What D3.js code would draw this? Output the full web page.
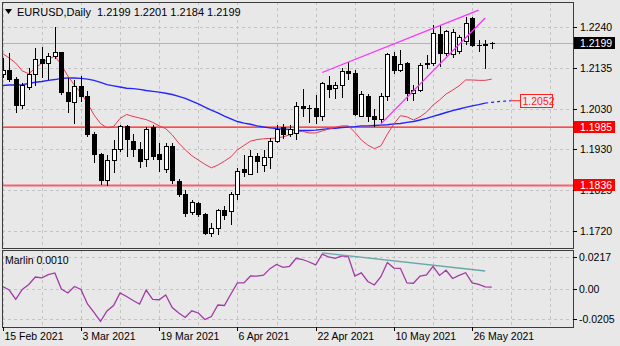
<!DOCTYPE html>
<html><head><meta charset="utf-8">
<script src="https://cdn.jsdelivr.net/npm/d3@7"></script>
<style>
html,body{margin:0;padding:0;background:#e8e8e8;}
svg{display:block;font-family:"Liberation Sans",Arial,sans-serif;}
</style>
</head><body>
<svg id="chart" width="620" height="346"></svg>
<script>
// EURUSD daily bars, 15 Feb – 31 May 2021
const dates = [
  "15 Feb 2021","16 Feb 2021","17 Feb 2021","18 Feb 2021","19 Feb 2021","22 Feb 2021","23 Feb 2021","24 Feb 2021","25 Feb 2021","26 Feb 2021",
  "1 Mar 2021","2 Mar 2021","3 Mar 2021","4 Mar 2021","5 Mar 2021","8 Mar 2021","9 Mar 2021","10 Mar 2021","11 Mar 2021","12 Mar 2021",
  "15 Mar 2021","16 Mar 2021","17 Mar 2021","18 Mar 2021","19 Mar 2021","22 Mar 2021","23 Mar 2021","24 Mar 2021","25 Mar 2021","26 Mar 2021",
  "29 Mar 2021","30 Mar 2021","31 Mar 2021","1 Apr 2021","2 Apr 2021","5 Apr 2021","6 Apr 2021","7 Apr 2021","8 Apr 2021","9 Apr 2021",
  "12 Apr 2021","13 Apr 2021","14 Apr 2021","15 Apr 2021","16 Apr 2021","19 Apr 2021","20 Apr 2021","21 Apr 2021","22 Apr 2021","23 Apr 2021",
  "26 Apr 2021","27 Apr 2021","28 Apr 2021","29 Apr 2021","30 Apr 2021","3 May 2021","4 May 2021","5 May 2021","6 May 2021","7 May 2021",
  "10 May 2021","11 May 2021","12 May 2021","13 May 2021","14 May 2021","17 May 2021","18 May 2021","19 May 2021","20 May 2021","21 May 2021",
  "24 May 2021","25 May 2021","26 May 2021","27 May 2021","28 May 2021","31 May 2021"
];
const open = [
  1.2119,1.2128,1.2107,1.2041,1.2085,1.2118,1.2158,1.2147,1.2164,1.2174,
  1.2074,1.2047,1.2089,1.2062,1.1966,1.1915,1.1848,1.1900,1.1927,1.1986,
  1.1948,1.1927,1.1901,1.1983,1.1916,1.1876,1.1935,1.1846,1.1812,1.1767,
  1.1790,1.1761,1.1714,1.1727,1.1772,1.1770,1.1812,1.1876,1.1865,1.1911,
  1.1888,1.1908,1.1948,1.1983,1.1965,1.1969,1.2037,1.2033,1.2033,1.2013,
  1.2090,1.2084,1.2092,1.2126,1.2122,1.2013,1.2063,1.2013,1.2003,1.2063,
  1.2164,1.2128,1.2147,1.2071,1.2079,1.2145,1.2147,1.2221,1.2173,1.2170,
  1.2177,1.2202,1.2261,1.2194,1.2196,1.2199
];
const high = [
  1.2160,1.2174,1.2113,1.2097,1.2135,1.2186,1.2188,1.2173,1.2241,1.2176,
  1.2110,1.2105,1.2115,1.2076,1.1972,1.1920,1.1915,1.1952,1.1990,1.1989,
  1.1967,1.1948,1.1986,1.1990,1.1944,1.1944,1.1944,1.1852,1.1824,1.1799,
  1.1794,1.1766,1.1740,1.1775,1.1784,1.1820,1.1881,1.1914,1.1926,1.1918,
  1.1926,1.1957,1.1990,1.1993,1.1990,1.2050,1.2081,1.2041,1.2067,1.2101,
  1.2115,1.2101,1.2135,1.2150,1.2131,1.2076,1.2070,1.2030,1.2072,1.2173,
  1.2177,1.2181,1.2150,1.2092,1.2147,1.2169,1.2245,1.2245,1.2232,1.2236,
  1.2220,1.2266,1.2265,1.2207,1.2207,1.2201
];
const low = [
  1.2110,1.2101,1.2020,1.2030,1.2079,1.2090,1.2109,1.2105,1.2158,1.2067,
  1.2021,1.1993,1.2050,1.1960,1.1893,1.1836,1.1835,1.1868,1.1922,1.1909,
  1.1909,1.1881,1.1884,1.1901,1.1871,1.1868,1.1840,1.1807,1.1756,1.1762,
  1.1756,1.1710,1.1704,1.1710,1.1748,1.1735,1.1800,1.1858,1.1863,1.1869,
  1.1871,1.1878,1.1944,1.1955,1.1960,1.1952,1.2010,1.1996,1.1994,1.2000,
  1.2058,1.2056,1.2058,1.2105,1.2012,1.2010,1.1999,1.1985,1.1995,1.2052,
  1.2120,1.2126,1.2051,1.2051,1.2075,1.2132,1.2140,1.2139,1.2165,1.2162,
  1.2172,1.2195,1.2188,1.2177,1.2133,1.2184
];
const close = [
  1.2128,1.2105,1.2041,1.2092,1.2118,1.2158,1.2147,1.2164,1.2174,1.2074,
  1.2049,1.2088,1.2062,1.1966,1.1915,1.1848,1.1900,1.1929,1.1986,1.1952,
  1.1927,1.1897,1.1980,1.1909,1.1903,1.1935,1.1848,1.1812,1.1765,1.1792,
  1.1761,1.1714,1.1727,1.1772,1.1759,1.1812,1.1871,1.1869,1.1911,1.1897,
  1.1908,1.1948,1.1980,1.1967,1.1979,1.2037,1.2033,1.2031,1.2013,1.2096,
  1.2081,1.2090,1.2126,1.2122,1.2016,1.2067,1.2012,1.2003,1.2063,1.2169,
  1.2130,1.2145,1.2071,1.2079,1.2143,1.2147,1.2224,1.2173,1.2228,1.2226,
  1.2214,1.2249,1.2194,1.2193,1.2192,1.2199
];
// short moving average (red)
const maFast = [
  1.2172,1.2161,1.2148,1.2128,1.2121,1.2135,1.2148,1.2158,1.2166,1.2143,
  1.2115,1.2092,1.2072,1.2046,1.2016,1.1994,1.1983,1.1986,1.2007,1.2017,
  1.2012,1.2008,1.2004,1.1997,1.1988,1.1981,1.1965,1.1944,1.1927,1.1912,
  1.1901,1.1890,1.1881,1.1888,1.1898,1.1909,1.1927,1.1938,1.1949,1.1953,
  1.1955,1.1956,1.1957,1.1960,1.1965,1.1972,1.1974,1.1970,1.1970,1.1975,
  1.1980,1.1984,1.1988,1.1988,1.1972,1.1952,1.1939,1.1930,1.1937,1.1967,
  1.1993,1.2014,1.2011,1.2003,1.2011,1.2023,1.2041,1.2054,1.2069,1.2079,
  1.2090,1.2105,1.2105,1.2104,1.2104,1.2107
];
// long moving average (blue) and its forward-shifted tail
const maSlow = [
  1.2091,1.2092,1.2092,1.2093,1.2096,1.2099,1.2101,1.2104,1.2106,1.2109,
  1.2110,1.2110,1.2109,1.2107,1.2104,1.2099,1.2093,1.2090,1.2087,1.2084,
  1.2083,1.2081,1.2078,1.2076,1.2074,1.2071,1.2068,1.2063,1.2058,1.2051,
  1.2044,1.2036,1.2028,1.2021,1.2013,1.2006,1.1999,1.1995,1.1992,1.1988,
  1.1985,1.1983,1.1981,1.1980,1.1979,1.1977,1.1976,1.1976,1.1977,1.1979,
  1.1981,1.1982,1.1984,1.1985,1.1986,1.1988,1.1988,1.1989,1.1990,1.1991,
  1.1993,1.1994,1.1997,1.1999,1.2003,1.2007,1.2012,1.2017,1.2022,1.2027,
  1.2031,1.2035,1.2039,1.2042,1.2046
];
const maSlowShift = [1.2046,1.2048,1.2050,1.2051,1.2052];
const maSlowLabel = 1.2052;
// Marlin oscillator
const marlin = [
  0.0017,-0.0007,-0.0071,-0.0003,0.0031,0.0081,0.0075,0.0097,0.0109,0.0000,
  -0.0027,0.0017,-0.0003,-0.0102,-0.0159,-0.0220,-0.0149,-0.0112,-0.0027,-0.0051,
  -0.0078,-0.0102,-0.0007,-0.0071,-0.0073,-0.0041,-0.0126,-0.0163,-0.0193,-0.0148,
  -0.0163,-0.0207,-0.0187,-0.0109,-0.0112,-0.0034,0.0041,0.0041,0.0088,0.0087,
  0.0094,0.0138,0.0166,0.0147,0.0154,0.0208,0.0200,0.0183,0.0163,0.0237,
  0.0217,0.0208,0.0224,0.0220,0.0088,0.0109,0.0051,0.0027,0.0083,0.0180,
  0.0142,0.0140,0.0041,0.0039,0.0088,0.0095,0.0154,0.0092,0.0127,0.0071,
  0.0092,0.0110,0.0041,0.0031,0.0014,0.0012
];
const priceTicks = [1.2240, 1.2135, 1.2030, 1.1930, 1.1825, 1.1720];
const marlinTicks = [0.0217, 0.00, -0.0205];
const marlinTickText = ["0.0217", "0.00", "-0.0205"];
const dateTicks = ["15 Feb 2021","3 Mar 2021","19 Mar 2021","6 Apr 2021","22 Apr 2021","10 May 2021","26 May 2021"];
const levels = [1.1985, 1.1836];
const channelUpper = [[49, 1.2124], [73, 1.2283]];
const channelLower = [[58, 1.1993], [74, 1.2263]];
const marlinTrend = [[49, 0.0245], [74, 0.0122]];
const symbol = "EURUSD,Daily";
const lastBar = {o: 1.2199, h: 1.2201, l: 1.2184, c: 1.2199};

const svg = d3.select("#chart");
const W = 620, H = 346;
const main = {l: 2, t: 2, r: 573, b: 248};
const osc = {l: 2, t: 250, r: 573, b: 327};

const x = d3.scaleLinear().domain([0, dates.length - 1]).range([2.7, 491.7]);
const y = d3.scaleLinear().domain([1.1720, 1.2240]).range([231, 27]);
const yo = d3.scaleLinear().domain([-0.0205, 0.0217]).range([319.2, 257]);

svg.append("rect").attr("width", W).attr("height", H).attr("fill", "#e8e8e8");

const defs = svg.append("defs");
defs.append("clipPath").attr("id", "clipMain").append("rect")
  .attr("x", main.l).attr("y", main.t).attr("width", main.r - main.l).attr("height", main.b - main.t);
defs.append("clipPath").attr("id", "clipOsc").append("rect")
  .attr("x", osc.l).attr("y", osc.t).attr("width", osc.r - osc.l).attr("height", osc.b - osc.t);

const gMain = svg.append("g").attr("clip-path", "url(#clipMain)");
const gOsc = svg.append("g").attr("clip-path", "url(#clipOsc)");

// grid
const gridIdx = d3.range(0, 90, 6);
const gridStyle = s => s.attr("stroke", "#c4c4c4").attr("stroke-width", 1).attr("stroke-dasharray", "3,3").attr("shape-rendering", "crispEdges");
gMain.selectAll(".vg").data(gridIdx).join("line")
  .attr("x1", d => Math.round(x(d)) + 0.5).attr("x2", d => Math.round(x(d)) + 0.5)
  .attr("y1", main.t).attr("y2", main.b).call(gridStyle);
gMain.selectAll(".hg").data(priceTicks).join("line")
  .attr("x1", main.l).attr("x2", main.r)
  .attr("y1", d => Math.round(y(d)) + 0.5).attr("y2", d => Math.round(y(d)) + 0.5).call(gridStyle);
gOsc.selectAll(".vg").data(gridIdx).join("line")
  .attr("x1", d => Math.round(x(d)) + 0.5).attr("x2", d => Math.round(x(d)) + 0.5)
  .attr("y1", osc.t).attr("y2", osc.b).call(gridStyle);
gOsc.selectAll(".hg").data(marlinTicks).join("line")
  .attr("x1", osc.l).attr("x2", osc.r)
  .attr("y1", d => Math.round(yo(d)) + 0.5).attr("y2", d => Math.round(yo(d)) + 0.5).call(gridStyle);

// bid line
gMain.append("line").attr("x1", main.l).attr("x2", main.r)
  .attr("y1", Math.round(y(lastBar.c)) + 0.5).attr("y2", Math.round(y(lastBar.c)) + 0.5)
  .attr("stroke", "#b4b4b4").attr("stroke-width", 1).attr("shape-rendering", "crispEdges");

// horizontal levels
gMain.append("line").attr("x1", main.l).attr("x2", main.r)
  .attr("y1", y(levels[0])).attr("y2", y(levels[0]))
  .attr("stroke", "#ff1a1a").attr("stroke-width", 1.2);
gMain.append("line").attr("x1", main.l).attr("x2", main.r)
  .attr("y1", y(levels[1])).attr("y2", y(levels[1]))
  .attr("stroke", "#f5606e").attr("stroke-width", 2.2);

// moving averages
const lineP = d3.line().x((d, i) => x(i)).y(d => y(d));
gMain.append("path").attr("d", lineP(maSlow)).attr("fill", "none").attr("stroke", "#2424ff").attr("stroke-width", 1.4);
gMain.append("path").attr("d", d3.line().x((d, i) => x(maSlow.length - 1 + i)).y(d => y(d))(maSlowShift))
  .attr("fill", "none").attr("stroke", "#2424ff").attr("stroke-width", 1.2).attr("stroke-dasharray", "3,3");
gMain.append("path").attr("d", lineP(maFast)).attr("fill", "none").attr("stroke", "#e83a55").attr("stroke-width", 1);

// candles
const bars = d3.range(dates.length).map(i => ({i, o: open[i], h: high[i], l: low[i], c: close[i]}));
const cg = gMain.append("g").attr("shape-rendering", "crispEdges");
cg.selectAll(".wick").data(bars).join("line")
  .attr("x1", d => Math.round(x(d.i)) + 0.5).attr("x2", d => Math.round(x(d.i)) + 0.5)
  .attr("y1", d => y(d.h)).attr("y2", d => y(d.l))
  .attr("stroke", "#000").attr("stroke-width", 1);
cg.selectAll(".body").data(bars).join("rect")
  .attr("x", d => Math.round(x(d.i)) - 1.5)
  .attr("width", 4)
  .attr("y", d => Math.min(y(d.o), y(d.c)))
  .attr("height", d => Math.max(0.5, Math.abs(y(d.o) - y(d.c))))
  .attr("fill", d => d.c >= d.o ? "#ffffff" : "#000000")
  .attr("stroke", "#000").attr("stroke-width", 1);

// channel lines
[channelUpper, channelLower].forEach(seg => {
  gMain.append("line")
    .attr("x1", x(seg[0][0])).attr("y1", y(seg[0][1]))
    .attr("x2", x(seg[1][0])).attr("y2", y(seg[1][1]))
    .attr("stroke", "#ff30ff").attr("stroke-width", 1.3);
});

// shifted MA value tag
const tagY = y(maSlowLabel);
const tagX = x(maSlow.length - 1 + maSlowShift.length - 1);
svg.append("line").attr("x1", tagX).attr("x2", 520).attr("y1", tagY).attr("y2", tagY)
  .attr("stroke", "#ff2020").attr("stroke-width", 1);
svg.append("rect").attr("x", 520.5).attr("y", Math.round(tagY) - 6.5).attr("width", 32).attr("height", 13)
  .attr("fill", "#ececec").attr("stroke", "#ff2020").attr("stroke-width", 1);
svg.append("text").attr("x", 522.5).attr("y", Math.round(tagY) + 4).attr("font-size", 10.5)
  .attr("fill", "#ff2020").text(maSlowLabel.toFixed(4));

// oscillator
gOsc.append("path").attr("d", d3.line().x((d, i) => x(i)).y(d => yo(d))(marlin))
  .attr("fill", "none").attr("stroke", "#a23aa6").attr("stroke-width", 1.3);
gOsc.append("line")
  .attr("x1", x(marlinTrend[0][0])).attr("y1", yo(marlinTrend[0][1]))
  .attr("x2", x(marlinTrend[1][0])).attr("y2", yo(marlinTrend[1][1]))
  .attr("stroke", "#6aa6a8").attr("stroke-width", 1.3);

// panel borders
[main, osc].forEach(p => {
  svg.append("rect").attr("x", p.l + 0.5).attr("y", p.t + 0.5)
    .attr("width", p.r - p.l).attr("height", p.b - p.t)
    .attr("fill", "none").attr("stroke", "#3c3c3c").attr("stroke-width", 1).attr("shape-rendering", "crispEdges");
});

// right price axis
const axisR = svg.append("g").attr("font-size", 10.5).attr("fill", "#000");
priceTicks.forEach(t => {
  axisR.append("line").attr("x1", main.r).attr("x2", main.r + 4)
    .attr("y1", Math.round(y(t)) + 0.5).attr("y2", Math.round(y(t)) + 0.5)
    .attr("stroke", "#000").attr("shape-rendering", "crispEdges");
  axisR.append("text").attr("x", 580).attr("y", y(t) + 4).text(t.toFixed(4));
});
marlinTicks.forEach((t, k) => {
  axisR.append("line").attr("x1", osc.r).attr("x2", osc.r + 4)
    .attr("y1", Math.round(yo(t)) + 0.5).attr("y2", Math.round(yo(t)) + 0.5)
    .attr("stroke", "#000").attr("shape-rendering", "crispEdges");
  axisR.append("text").attr("x", 579).attr("y", yo(t) + 4).text(marlinTickText[k]);
});

// value tags on price axis (drawn over the tick labels)
function tag(v, bg) {
  const ty = Math.round(y(v));
  svg.append("rect").attr("x", 574).attr("y", ty - 6).attr("width", 41).attr("height", 12).attr("fill", bg);
  svg.append("text").attr("x", 580).attr("y", ty + 4).attr("font-size", 10.5).attr("fill", "#fff").text(v.toFixed(4));
}
tag(lastBar.c, "#000000");
tag(levels[0], "#ff0000");
tag(levels[1], "#ff0000");

// date axis
const axisB = svg.append("g").attr("font-size", 10.5).attr("fill", "#000");
dateTicks.forEach(lbl => {
  const xi = Math.round(x(dates.indexOf(lbl))) + 0.5;
  axisB.append("line").attr("x1", xi).attr("x2", xi).attr("y1", osc.b).attr("y2", osc.b + 4)
    .attr("stroke", "#000").attr("shape-rendering", "crispEdges");
  axisB.append("text").attr("x", xi + 1).attr("y", 340).text(lbl);
});

// titles
svg.append("path").attr("d", "M5,9 L12,9 L8.5,14 Z").attr("fill", "#000");
const symText = svg.append("text").attr("x", 17).attr("y", 16).attr("font-size", 11).attr("fill", "#000").text(symbol);
const symW = symText.node().getComputedTextLength();
svg.append("text").attr("x", 17 + symW + 6).attr("y", 16).attr("font-size", 11).attr("fill", "#000")
  .text([lastBar.o, lastBar.h, lastBar.l, lastBar.c].map(v => v.toFixed(4)).join(" "));
svg.append("text").attr("x", 5).attr("y", 264).attr("font-size", 10.5).attr("fill", "#000").text("Marlin 0.0010");
</script>
</body></html>
